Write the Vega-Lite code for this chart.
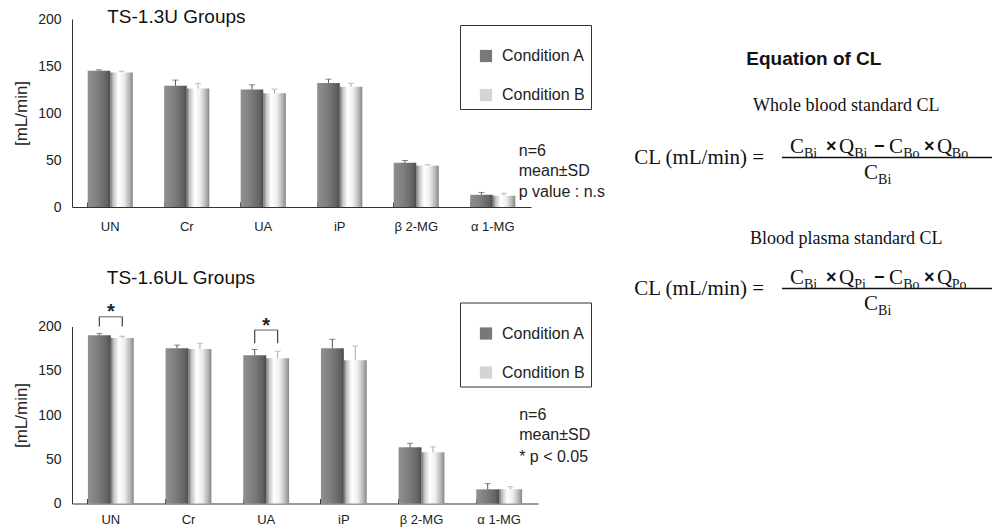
{
  "$schema": "https://vega.github.io/schema/vega-lite/v6.json",
  "background": "white",
  "padding": {"left": 12, "top": 8, "right": 0, "bottom": 0},
  "config": {
    "font": "Liberation Sans",
    "view": {"stroke": null},
    "axis": {"labelColor": "#222", "titleColor": "#222", "domainColor": "#333", "tickColor": "#333", "grid": false}
  },
  "datasets": {
    "top": [
      {"cat": "UN", "cond": "Condition A", "mean": 145, "hi": 146},
      {"cat": "UN", "cond": "Condition B", "mean": 143, "hi": 144.5},
      {"cat": "Cr", "cond": "Condition A", "mean": 129, "hi": 135},
      {"cat": "Cr", "cond": "Condition B", "mean": 126, "hi": 131.5},
      {"cat": "UA", "cond": "Condition A", "mean": 125, "hi": 130},
      {"cat": "UA", "cond": "Condition B", "mean": 121, "hi": 125.5},
      {"cat": "iP", "cond": "Condition A", "mean": 132, "hi": 136},
      {"cat": "iP", "cond": "Condition B", "mean": 128, "hi": 131.5},
      {"cat": "β 2-MG", "cond": "Condition A", "mean": 47, "hi": 49.5},
      {"cat": "β 2-MG", "cond": "Condition B", "mean": 44, "hi": 45},
      {"cat": "α 1-MG", "cond": "Condition A", "mean": 13, "hi": 15.5},
      {"cat": "α 1-MG", "cond": "Condition B", "mean": 12, "hi": 14.5}
    ],
    "bottom": [
      {"cat": "UN", "cond": "Condition A", "mean": 190, "hi": 192},
      {"cat": "UN", "cond": "Condition B", "mean": 187, "hi": 189},
      {"cat": "Cr", "cond": "Condition A", "mean": 175.5, "hi": 179},
      {"cat": "Cr", "cond": "Condition B", "mean": 174.5, "hi": 181},
      {"cat": "UA", "cond": "Condition A", "mean": 167.5, "hi": 174},
      {"cat": "UA", "cond": "Condition B", "mean": 164, "hi": 172},
      {"cat": "iP", "cond": "Condition A", "mean": 175.5, "hi": 185.5},
      {"cat": "iP", "cond": "Condition B", "mean": 162, "hi": 178},
      {"cat": "β 2-MG", "cond": "Condition A", "mean": 63.5, "hi": 68},
      {"cat": "β 2-MG", "cond": "Condition B", "mean": 58, "hi": 64},
      {"cat": "α 1-MG", "cond": "Condition A", "mean": 16, "hi": 22.5},
      {"cat": "α 1-MG", "cond": "Condition B", "mean": 16, "hi": 19}
    ],
    "topStats": [
      {"t": "n=6", "v": 60},
      {"t": "mean±SD", "v": 38},
      {"t": "p value : n.s", "v": 16}
    ],
    "bottomStats": [
      {"t": "n=6", "v": 100},
      {"t": "mean±SD", "v": 77},
      {"t": "* p < 0.05", "v": 52.5}
    ],
    "legs": [
      {"cat": "UN", "cond": "Condition A", "top": 211, "bot": 200},
      {"cat": "UN", "cond": "Condition B", "top": 211, "bot": 200},
      {"cat": "UA", "cond": "Condition A", "top": 196, "bot": 181},
      {"cat": "UA", "cond": "Condition B", "top": 196, "bot": 181}
    ],
    "sig": [
      {"cat": "UN", "top": 211, "star": 221},
      {"cat": "UA", "top": 196, "star": 205}
    ],
    "eqTitle": [{"t": "Equation of CL", "x": 52.6, "y": 7.9}],
    "eqSub": [
      {"t": "Whole blood standard CL", "x": 61.1, "y": 17.3},
      {"t": "Blood plasma standard CL", "x": 61.1, "y": 43.9}
    ],
    "eqMain": [
      {"t": "CL (mL/min) =", "x": 5.3, "y": 27.7},
      {"t": "C", "x": 46.3, "y": 25.5},
      {"t": "Q", "x": 59.2, "y": 25.5},
      {"t": "C", "x": 72.4, "y": 25.5},
      {"t": "Q", "x": 85.0, "y": 25.5},
      {"t": "C", "x": 65.8, "y": 30.7},
      {"t": "CL (mL/min) =", "x": 5.3, "y": 53.9},
      {"t": "C", "x": 46.3, "y": 51.7},
      {"t": "Q", "x": 59.2, "y": 51.7},
      {"t": "C", "x": 72.4, "y": 51.7},
      {"t": "Q", "x": 85.0, "y": 51.7},
      {"t": "C", "x": 65.8, "y": 56.9}
    ],
    "eqSubs": [
      {"t": "Bi", "x": 50.0, "y": 26.9},
      {"t": "Bi", "x": 63.2, "y": 26.9},
      {"t": "Bo", "x": 76.1, "y": 26.9},
      {"t": "Bo", "x": 88.9, "y": 26.9},
      {"t": "Bi", "x": 69.5, "y": 32.1},
      {"t": "Bi", "x": 50.0, "y": 53.1},
      {"t": "Pi", "x": 63.2, "y": 53.1},
      {"t": "Bo", "x": 76.1, "y": 53.1},
      {"t": "Po", "x": 88.9, "y": 53.1},
      {"t": "Bi", "x": 69.5, "y": 58.3}
    ],
    "eqOps": [
      {"t": "×", "x": 55.8, "y": 25.5},
      {"t": "−", "x": 68.4, "y": 25.5},
      {"t": "×", "x": 81.6, "y": 25.5},
      {"t": "×", "x": 55.8, "y": 51.7},
      {"t": "−", "x": 68.4, "y": 51.7},
      {"t": "×", "x": 81.6, "y": 51.7}
    ],
    "eqLines": [
      {"x": 44.2, "x2": 100, "y": 27.7},
      {"x": 44.2, "x2": 100, "y": 53.9}
    ]
  },
  "hconcat": [
    {
      "vconcat": [
        {
          "width": 459,
          "height": 188,
          "layer": [
            {
              "data": {"name": "top"},
              "mark": {"type": "square", "opacity": 0},
              "encoding": {
                "x": {"field": "cat", "type": "nominal", "sort": null,
                  "scale": {"domain": ["UN", "Cr", "UA", "iP", "β 2-MG", "α 1-MG"], "paddingInner": 0.41, "paddingOuter": 0.205},
                  "axis": {"title": null, "labelAngle": 0, "bandPosition": 0, "tickSize": -5, "labelPadding": 18, "labelFontSize": 13}},
                "y": {"field": "mean", "type": "quantitative",
                  "scale": {"domain": [0, 200], "nice": false},
                  "axis": {"title": "[mL/min]", "values": [0, 50, 100, 150, 200], "ticks": false, "labelFontSize": 14, "labelPadding": 11, "titleFontSize": 17, "titleFontWeight": "normal", "titlePadding": 7}},
                "color": {"field": "cond", "type": "nominal",
                  "scale": {"domain": ["Condition A", "Condition B"], "range": ["#787878", "#d4d4d4"]},
                  "legend": {"orient": "none", "legendX": 388, "legendY": 6, "title": " ", "titleFontSize": 10, "titlePadding": 7, "padding": 6, "strokeColor": "#333", "fillColor": "white", "symbolType": "square", "symbolSize": 150, "symbolOffset": 12, "symbolStrokeWidth": 0, "symbolOpacity": 1, "labelFontSize": 16, "labelOffset": 8, "rowPadding": 23, "labelColor": "#222"}}
              }
            },
            {
              "data": {"name": "top"},
              "transform": [{"filter": "datum.cond === 'Condition A'"}],
              "mark": {"type": "bar", "color": {"gradient": "linear", "x1": 0, "y1": 0, "x2": 1, "y2": 0, "stops": [{"offset": 0, "color": "#909090"}, {"offset": 0.45, "color": "#7d7d7d"}, {"offset": 0.85, "color": "#626262"}, {"offset": 1, "color": "#4a4a4a"}]}},
              "encoding": {
                "x": {"field": "cat", "type": "nominal", "sort": null},
                "xOffset": {"field": "cond", "type": "nominal", "scale": {"domain": ["Condition A", "Condition B"], "paddingInner": 0, "paddingOuter": 0}},
                "y": {"field": "mean", "type": "quantitative"}
              }
            },
            {
              "data": {"name": "top"},
              "transform": [{"filter": "datum.cond === 'Condition B'"}],
              "mark": {"type": "bar", "color": {"gradient": "linear", "x1": 0, "y1": 0, "x2": 1, "y2": 0, "stops": [{"offset": 0, "color": "#6e6e6e"}, {"offset": 0.12, "color": "#c0c0c0"}, {"offset": 0.35, "color": "#ffffff"}, {"offset": 0.6, "color": "#eeeeee"}, {"offset": 0.85, "color": "#b4b4b4"}, {"offset": 1, "color": "#858585"}]}},
              "encoding": {
                "x": {"field": "cat", "type": "nominal", "sort": null},
                "xOffset": {"field": "cond", "type": "nominal"},
                "y": {"field": "mean", "type": "quantitative"}
              }
            },
            {
              "data": {"name": "top"},
              "mark": {"type": "rule", "strokeWidth": 1},
              "encoding": {
                "x": {"field": "cat", "type": "nominal", "sort": null},
                "xOffset": {"field": "cond", "type": "nominal"},
                "y": {"field": "mean", "type": "quantitative"},
                "y2": {"field": "hi"},
                "color": {"condition": {"test": "datum.cond === 'Condition A'", "value": "#555555"}, "value": "#a8a8a8"}
              }
            },
            {
              "data": {"name": "top"},
              "mark": {"type": "tick", "thickness": 1, "size": 6},
              "encoding": {
                "x": {"field": "cat", "type": "nominal", "sort": null},
                "xOffset": {"field": "cond", "type": "nominal"},
                "y": {"field": "hi", "type": "quantitative"},
                "color": {"condition": {"test": "datum.cond === 'Condition A'", "value": "#555555"}, "value": "#a8a8a8"}
              }
            },
            {
              "data": {"values": [{"t": "TS-1.3U Groups"}]},
              "mark": {"type": "text", "fontSize": 19, "align": "left", "baseline": "middle", "dx": -3, "color": "#111"},
              "encoding": {
                "x": {"datum": "UN", "type": "nominal"},
                "y": {"datum": 202, "type": "quantitative"},
                "text": {"field": "t"}
              }
            },
            {
              "data": {"name": "topStats"},
              "mark": {"type": "text", "fontSize": 16, "align": "left", "baseline": "middle", "dx": 26, "color": "#222"},
              "encoding": {
                "x": {"datum": "α 1-MG", "type": "nominal"},
                "y": {"field": "v", "type": "quantitative"},
                "text": {"field": "t"}
              }
            }
          ]
        },
        {
          "width": 466,
          "height": 177,
          "layer": [
            {
              "data": {"name": "bottom"},
              "mark": {"type": "square", "opacity": 0},
              "encoding": {
                "x": {"field": "cat", "type": "nominal", "sort": null,
                  "scale": {"domain": ["UN", "Cr", "UA", "iP", "β 2-MG", "α 1-MG"], "paddingInner": 0.41, "paddingOuter": 0.205},
                  "axis": {"title": null, "labelAngle": 0, "bandPosition": 0, "tickSize": -5, "labelPadding": 15, "labelFontSize": 13}},
                "y": {"field": "mean", "type": "quantitative",
                  "scale": {"domain": [0, 200], "nice": false},
                  "axis": {"title": "[mL/min]", "values": [0, 50, 100, 150, 200], "ticks": false, "labelFontSize": 14, "labelPadding": 11, "titleFontSize": 17, "titleFontWeight": "normal", "titlePadding": 7}},
                "color": {"field": "cond", "type": "nominal",
                  "scale": {"domain": ["Condition A", "Condition B"], "range": ["#787878", "#d4d4d4"]},
                  "legend": {"orient": "none", "legendX": 388, "legendY": -24, "title": " ", "titleFontSize": 10, "titlePadding": 7, "padding": 6, "strokeColor": "#333", "fillColor": "white", "symbolType": "square", "symbolSize": 150, "symbolOffset": 12, "symbolStrokeWidth": 0, "symbolOpacity": 1, "labelFontSize": 16, "labelOffset": 8, "rowPadding": 23, "labelColor": "#222"}}
              }
            },
            {
              "data": {"name": "bottom"},
              "transform": [{"filter": "datum.cond === 'Condition A'"}],
              "mark": {"type": "bar", "color": {"gradient": "linear", "x1": 0, "y1": 0, "x2": 1, "y2": 0, "stops": [{"offset": 0, "color": "#909090"}, {"offset": 0.45, "color": "#7d7d7d"}, {"offset": 0.85, "color": "#626262"}, {"offset": 1, "color": "#4a4a4a"}]}},
              "encoding": {
                "x": {"field": "cat", "type": "nominal", "sort": null},
                "xOffset": {"field": "cond", "type": "nominal", "scale": {"domain": ["Condition A", "Condition B"], "paddingInner": 0, "paddingOuter": 0}},
                "y": {"field": "mean", "type": "quantitative"}
              }
            },
            {
              "data": {"name": "bottom"},
              "transform": [{"filter": "datum.cond === 'Condition B'"}],
              "mark": {"type": "bar", "color": {"gradient": "linear", "x1": 0, "y1": 0, "x2": 1, "y2": 0, "stops": [{"offset": 0, "color": "#6e6e6e"}, {"offset": 0.12, "color": "#c0c0c0"}, {"offset": 0.35, "color": "#ffffff"}, {"offset": 0.6, "color": "#eeeeee"}, {"offset": 0.85, "color": "#b4b4b4"}, {"offset": 1, "color": "#858585"}]}},
              "encoding": {
                "x": {"field": "cat", "type": "nominal", "sort": null},
                "xOffset": {"field": "cond", "type": "nominal"},
                "y": {"field": "mean", "type": "quantitative"}
              }
            },
            {
              "data": {"name": "bottom"},
              "mark": {"type": "rule", "strokeWidth": 1},
              "encoding": {
                "x": {"field": "cat", "type": "nominal", "sort": null},
                "xOffset": {"field": "cond", "type": "nominal"},
                "y": {"field": "mean", "type": "quantitative"},
                "y2": {"field": "hi"},
                "color": {"condition": {"test": "datum.cond === 'Condition A'", "value": "#555555"}, "value": "#a8a8a8"}
              }
            },
            {
              "data": {"name": "bottom"},
              "mark": {"type": "tick", "thickness": 1, "size": 6},
              "encoding": {
                "x": {"field": "cat", "type": "nominal", "sort": null},
                "xOffset": {"field": "cond", "type": "nominal"},
                "y": {"field": "hi", "type": "quantitative"},
                "color": {"condition": {"test": "datum.cond === 'Condition A'", "value": "#555555"}, "value": "#a8a8a8"}
              }
            },
            {
              "data": {"name": "legs"},
              "mark": {"type": "rule", "strokeWidth": 1.2, "color": "#444"},
              "encoding": {
                "x": {"field": "cat", "type": "nominal", "sort": null},
                "xOffset": {"field": "cond", "type": "nominal"},
                "y": {"field": "bot", "type": "quantitative"},
                "y2": {"field": "top"}
              }
            },
            {
              "data": {"name": "sig"},
              "mark": {"type": "tick", "thickness": 1.2, "size": 23, "color": "#444"},
              "encoding": {
                "x": {"field": "cat", "type": "nominal", "sort": null},
                "y": {"field": "top", "type": "quantitative"}
              }
            },
            {
              "data": {"name": "sig"},
              "mark": {"type": "text", "text": "*", "fontSize": 20, "fontWeight": "bold", "baseline": "middle", "dy": 4, "color": "#222"},
              "encoding": {
                "x": {"field": "cat", "type": "nominal", "sort": null},
                "y": {"field": "star", "type": "quantitative"}
              }
            },
            {
              "data": {"values": [{"t": "TS-1.6UL Groups"}]},
              "mark": {"type": "text", "fontSize": 19, "align": "left", "baseline": "middle", "dx": -4, "color": "#111"},
              "encoding": {
                "x": {"datum": "UN", "type": "nominal"},
                "y": {"datum": 254.6, "type": "quantitative"},
                "text": {"field": "t"}
              }
            },
            {
              "data": {"name": "bottomStats"},
              "mark": {"type": "text", "fontSize": 16, "align": "left", "baseline": "middle", "dx": 20, "color": "#222"},
              "encoding": {
                "x": {"datum": "α 1-MG", "type": "nominal"},
                "y": {"field": "v", "type": "quantitative"},
                "text": {"field": "t"}
              }
            }
          ]
        }
      ],
      "spacing": 35.5,
      "resolve": {"scale": {"color": "independent", "xOffset": "independent"}, "legend": {"color": "independent"}}
    },
    {
      "width": 380,
      "height": 500,
      "encoding": {
        "x": {"field": "x", "type": "quantitative", "scale": {"domain": [0, 100], "nice": false, "zero": false}, "axis": null},
        "y": {"field": "y", "type": "quantitative", "scale": {"domain": [0, 100], "nice": false, "zero": false, "reverse": true}, "axis": null}
      },
      "layer": [
        {
          "data": {"name": "eqTitle"},
          "mark": {"type": "text", "fontSize": 19, "fontWeight": "bold", "align": "center", "baseline": "middle", "color": "#111"},
          "encoding": {"text": {"field": "t"}}
        },
        {
          "data": {"name": "eqSub"},
          "mark": {"type": "text", "font": "Liberation Serif", "fontSize": 18, "align": "center", "baseline": "middle", "color": "#111"},
          "encoding": {"text": {"field": "t"}}
        },
        {
          "data": {"name": "eqMain"},
          "mark": {"type": "text", "font": "Liberation Serif", "fontSize": 21, "align": "left", "baseline": "middle", "color": "#111"},
          "encoding": {"text": {"field": "t"}}
        },
        {
          "data": {"name": "eqSubs"},
          "mark": {"type": "text", "font": "Liberation Serif", "fontSize": 14, "align": "left", "baseline": "middle", "color": "#111"},
          "encoding": {"text": {"field": "t"}}
        },
        {
          "data": {"name": "eqOps"},
          "mark": {"type": "text", "fontSize": 18, "fontWeight": "bold", "align": "left", "baseline": "middle", "color": "#111"},
          "encoding": {"text": {"field": "t"}}
        },
        {
          "data": {"name": "eqLines"},
          "mark": {"type": "rule", "strokeWidth": 1.3, "color": "#111"},
          "encoding": {"x2": {"field": "x2"}}
        }
      ]
    }
  ],
  "spacing": 8
}
